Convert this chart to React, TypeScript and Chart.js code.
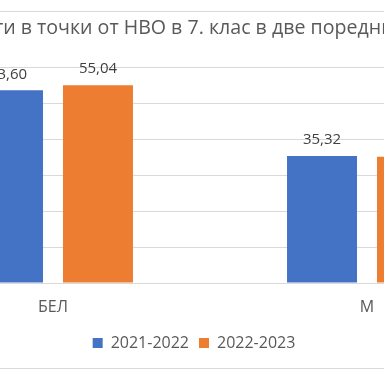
import React, { useEffect, useRef } from "react";
import { Chart, registerables } from "chart.js";

Chart.register(...registerables);

const titleText = "Резултати в точки от НВО в 7. клас в две поредни години";
const categories = ["БЕЛ", "М"];
const seriesNames = ["2021-2022", "2022-2023"];
const values2122 = [53.6, 35.32];
const values2223 = [55.04, 35.1];
const yTicksMax = 60;
const yTickStep = 10;

const colors = ["#4472C4", "#ED7D31"];
const textColor = "#595959";
const fontFamily = "'Open Sans', 'Liberation Sans', Arial, sans-serif";

const fmt = (v: number) => v.toFixed(2).replace(".", ",");

const dataLabelPlugin = {
  id: "dataLabels",
  afterDatasetsDraw(chart: any) {
    const ctx = chart.ctx;
    ctx.save();
    ctx.font = `15px ${fontFamily}`;
    ctx.fillStyle = "#404040";
    ctx.textAlign = "center";
    ctx.textBaseline = "middle";
    chart.data.datasets.forEach((ds: any, i: number) => {
      const meta = chart.getDatasetMeta(i);
      meta.data.forEach((el: any, j: number) => {
        ctx.fillText(fmt(ds.data[j]), el.x, el.y - 16);
      });
    });
    ctx.restore();
  },
};

export default function App() {
  const ref = useRef<HTMLCanvasElement>(null);
  useEffect(() => {
    if (!ref.current) return;
    const chart = new Chart(ref.current, {
      type: "bar",
      data: {
        labels: categories,
        datasets: [
          {
            label: seriesNames[0],
            data: values2122,
            backgroundColor: colors[0],
            barPercentage: 0.778,
            categoryPercentage: 0.573,
          },
          {
            label: seriesNames[1],
            data: values2223,
            backgroundColor: colors[1],
            barPercentage: 0.778,
            categoryPercentage: 0.573,
          },
        ],
      },
      options: {
        animation: false,
        responsive: true,
        maintainAspectRatio: false,
        layout: { padding: { left: 20, right: 20, top: 0, bottom: 7 } },
        plugins: {
          title: {
            display: true,
            text: titleText,
            color: textColor,
            font: { family: fontFamily, size: 19.6, weight: "normal" },
            padding: { top: 5, bottom: 26.8 },
          },
          legend: {
            position: "bottom",
            labels: {
              color: textColor,
              font: { family: fontFamily, size: 16 },
              boxWidth: 10,
              boxHeight: 10,
              padding: 10,
            },
          },
          tooltip: { enabled: false },
        },
        scales: {
          x: {
            grid: { display: false, drawTicks: false },
            border: { display: true, color: "#d9d9d9" },
            ticks: {
              color: textColor,
              font: { family: fontFamily, size: 16 },
              padding: 14.7,
            },
            afterFit: (axis: any) => {
              axis.height = 42;
            },
          },
          y: {
            min: 0,
            max: yTicksMax,
            ticks: { display: false, stepSize: yTickStep },
            grid: { color: "#d9d9d9", drawTicks: false },
            border: { display: false },
            afterFit: (axis: any) => {
              axis.width = 32;
            },
          },
        },
      },
      plugins: [dataLabelPlugin],
    });
    return () => chart.destroy();
  }, []);

  return (
    <div
      style={{
        position: "fixed",
        left: 0,
        top: 0,
        width: 384,
        height: 384,
        overflow: "hidden",
        background: "#fff",
      }}
    >
      <div
        style={{
          position: "absolute",
          left: -157,
          top: 11,
          width: 700,
          height: 356,
          border: "1px solid #d9d9d9",
        }}
      >
        <div style={{ position: "relative", width: 700, height: 356 }}>
          <canvas ref={ref} />
        </div>
      </div>
    </div>
  );
}
